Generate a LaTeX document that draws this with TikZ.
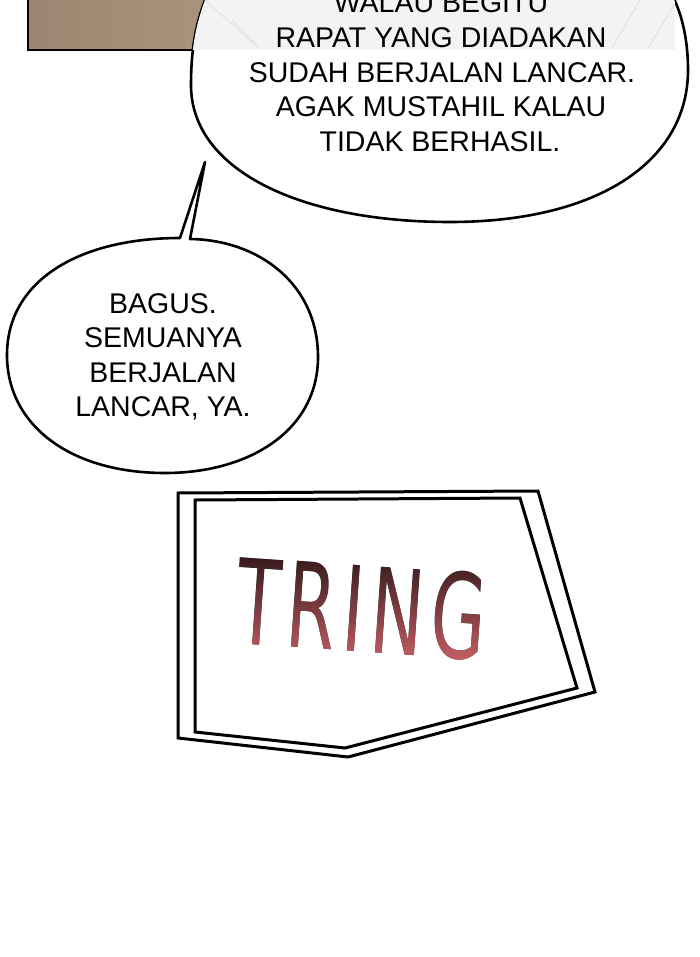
\documentclass[tikz,border=0pt]{standalone}
\usepackage{fontspec}
\setmainfont{Liberation Sans}
\newfontfamily\tringfont[FakeStretch=0.6,LetterSpace=6]{DejaVu Sans}
\definecolor{tanL}{HTML}{9C8671}
\definecolor{tanR}{HTML}{B19A82}
\definecolor{bandgray}{HTML}{F3F3F3}
\definecolor{bandline}{HTML}{E3E3E3}
\definecolor{tringtop}{HTML}{2A1416}
\definecolor{tringmid}{HTML}{7E3A3E}
\definecolor{tringbot}{HTML}{D2666B}
\begin{document}
\begin{tikzpicture}[x=1pt,y=-1pt,
  bubble/.style={fill=white,draw=black,line width=2.6pt,line join=round},
  frame/.style={draw=black,line width=3pt,line join=miter},
  say/.style={anchor=base,inner sep=0pt,font=\fontsize{28.5}{34}\selectfont},
  bandstroke/.style={draw=bandline,line width=1.2pt}]
\useasboundingbox (0,0) rectangle (700,957);
\fill[white] (0,0) rectangle (700,957);
% brown panel
\draw[line width=2.6pt,left color=tanL,right color=tanR] (28,-10) rectangle (300,50);
% top bubble
\path[bubble] (207,-5) .. controls (197,20) and (191,45) .. (191,85)
  .. controls (191,170) and (300,222) .. (450,222)
  .. controls (600,222) and (688,160) .. (688,70)
  .. controls (688,35) and (680,10) .. (672,-5);
\begin{scope}
  \clip (207,-5) .. controls (197,20) and (191,45) .. (191,85)
  .. controls (191,170) and (300,222) .. (450,222)
  .. controls (600,222) and (688,160) .. (688,70)
  .. controls (688,35) and (680,10) .. (672,-5) -- cycle;
  \fill[bandgray] (190,-10) rectangle (675,50);
  \draw[bandstroke] (205,0) -- (255,45);
  \draw[bandstroke] (232,20) -- (258,47);
  \draw[bandstroke] (640,0) -- (612,48);
  \draw[bandstroke] (674,5) -- (648,48);
\end{scope}
\node[say] (w1) at (441,13) {WALAU BEGITU};
\node[say] (w2) at (441,47.5) {RAPAT YANG DIADAKAN};
\node[say] (w3) at (442,82.5) {SUDAH BERJALAN LANCAR.};
\node[say] (w4) at (441,117) {AGAK MUSTAHIL KALAU};
\node[say] (w5) at (440,151.5) {TIDAK BERHASIL.};
% left bubble with tail
\path[bubble] (190,239) .. controls (260,240) and (318,285) .. (318,357)
  .. controls (318,430) and (250,473) .. (165,473)
  .. controls (70,473) and (7,425) .. (7,355)
  .. controls (7,280) and (80,238) .. (180,238)
  -- (205,162) -- cycle;
\node[say] (b1) at (163,313) {BAGUS.};
\node[say] (b2) at (163,347.5) {SEMUANYA};
\node[say] (b3) at (163,382) {BERJALAN};
\node[say] (b4) at (163,416.7) {LANCAR, YA.};
% TRING frame
\draw[frame] (178,493) -- (538,491) -- (595,692) -- (348,757) -- (178,738) -- cycle;
\draw[frame] (195,500) -- (520,498) -- (577,688) -- (345,748) -- (195,732) -- cycle;
\node[inner sep=0pt,rotate=-4,text=black,font=\tringfont\fontsize{118}{118}\selectfont] (tring) at (362,609) {TRING};
\fill[blend mode=lighten,top color=tringtop,middle color=tringmid,bottom color=tringbot] (225,548) rectangle (495,672);
\end{tikzpicture}
\end{document}
